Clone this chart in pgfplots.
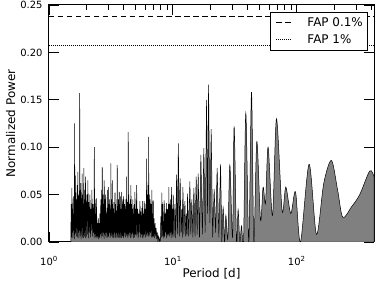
\documentclass[border=0pt]{standalone}
\usepackage{fontspec}
\setmainfont{DejaVu Sans}
\usepackage{pgfplots}
\pgfplotsset{compat=1.18}
\begin{document}
\begin{tikzpicture}
\begin{axis}[
  scale only axis, width=325bp, height=237bp,
  xmode=log, xmin=1, xmax=420, ymin=0, ymax=0.25,
  xtick={1,10,100},
  xticklabels={10\textsuperscript{0},10\textsuperscript{1},10\textsuperscript{2}},
  minor xtick={2,3,4,5,6,7,8,9,20,30,40,50,60,70,80,90,200,300,400},
  ytick={0,0.05,0.1,0.15,0.2,0.25},
  /pgf/number format/assume math mode=true,
  yticklabel style={/pgf/number format/fixed, /pgf/number format/fixed zerofill, /pgf/number format/precision=2, xshift=-3bp},
  scaled y ticks=false,
  tick align=inside, major tick length=10bp, minor tick length=5bp,
  axis line style={line width=1bp},
  every tick/.style={black, line width=0.8bp},
  tick label style={font=\fontsize{10}{12}\selectfont},
  xticklabel style={anchor=base, yshift=-23bp},
  label style={font=\fontsize{12}{14}\selectfont},
  xlabel={Period [d]}, ylabel={Normalized Power},
  xlabel style={at={(axis description cs:0.5,0)}, anchor=base, yshift=-35bp},
  ylabel style={at={(axis description cs:-0.1046,0.5)}, anchor=base},
  legend style={at={(rel axis cs:0.9785,0.9705)}, anchor=north east, draw=black, fill=white,
    inner xsep=2bp, inner ysep=3bp, row sep=3bp,
    nodes={inner xsep=2bp, inner ysep=2bp},
    font=\fontsize{12}{14}\selectfont},
  legend cell align=left,
]
\addplot[black, line width=0.5bp, fill=gray, forget plot] coordinates {
(1.50,0) (1.51,0.040) (1.52,0.005) (1.53,0.057) (1.54,0.010) (1.55,0.035) (1.56,0.004) (1.57,0.048) (1.58,0.012) (1.59,0.030) (1.60,0.003) (1.61,0.125) (1.62,0.008) (1.63,0.070) (1.64,0.010) (1.65,0.052) (1.66,0.006) (1.67,0.045) (1.68,0.015) (1.69,0.060) (1.70,0.005) (1.71,0.074) (1.72,0.010) (1.73,0.050) (1.74,0.004) (1.75,0.042) (1.76,0.012) (1.77,0.157) (1.78,0.006) (1.79,0.055) (1.80,0.010) (1.81,0.062) (1.82,0.003) (1.83,0.040) (1.84,0.012) (1.85,0.072) (1.86,0.005) (1.87,0.050) (1.88,0.015) (1.89,0.038) (1.90,0.004) (1.91,0.078) (1.92,0.010) (1.93,0.055) (1.94,0.006) (1.95,0.045) (1.96,0.012) (1.97,0.069) (1.98,0.004) (1.99,0.042)
(2.00,0.006) (2.02,0.050) (2.04,0.008) (2.06,0.065) (2.08,0.004) (2.10,0.042) (2.12,0.010) (2.14,0.050) (2.16,0.005) (2.18,0.035) (2.20,0.012) (2.22,0.055) (2.24,0.006) (2.26,0.040) (2.28,0.010) (2.30,0.040) (2.31,0.004) (2.32,0.100) (2.34,0.008) (2.36,0.045) (2.38,0.005) (2.40,0.030) (2.41,0.006) (2.42,0.046) (2.44,0.004) (2.46,0.020) (2.48,0.006) (2.50,0.025) (2.52,0.003) (2.54,0.020) (2.56,0.005) (2.58,0.030) (2.60,0.008) (2.62,0.045) (2.64,0.004) (2.66,0.055) (2.68,0.010) (2.69,0.079) (2.71,0.006) (2.73,0.050) (2.75,0.010) (2.77,0.040) (2.78,0.003) (2.79,0.065) (2.81,0.008) (2.83,0.045) (2.85,0.006) (2.87,0.050) (2.89,0.010) (2.91,0.030) (2.93,0.004) (2.94,0.036) (2.96,0.008) (2.98,0.055) (2.99,0.005)
(3.01,0.058) (3.03,0.006) (3.05,0.040) (3.07,0.010) (3.09,0.045) (3.11,0.004) (3.13,0.035) (3.15,0.008) (3.16,0.083) (3.18,0.006) (3.20,0.045) (3.22,0.010) (3.24,0.040) (3.25,0.005) (3.26,0.065) (3.28,0.008) (3.30,0.035) (3.32,0.004) (3.34,0.042) (3.36,0.010) (3.38,0.030) (3.40,0.005) (3.41,0.052) (3.43,0.008) (3.45,0.040) (3.47,0.004) (3.49,0.033) (3.51,0.010) (3.53,0.045) (3.545,0.005) (3.555,0.081) (3.57,0.008) (3.59,0.038) (3.61,0.005) (3.63,0.045) (3.65,0.010) (3.67,0.032) (3.68,0.004) (3.69,0.053) (3.71,0.008) (3.73,0.040) (3.75,0.005) (3.77,0.048) (3.79,0.010) (3.81,0.035) (3.83,0.004) (3.86,0.053) (3.88,0.008) (3.90,0.040) (3.92,0.006) (3.94,0.045) (3.96,0.010) (3.98,0.030) (3.99,0.004)
(4.00,0.048) (4.03,0.006) (4.06,0.040) (4.09,0.010) (4.12,0.045) (4.15,0.005) (4.18,0.035) (4.21,0.008) (4.23,0.069) (4.26,0.006) (4.29,0.042) (4.32,0.010) (4.34,0.004) (4.36,0.116) (4.38,0.008) (4.41,0.050) (4.44,0.006) (4.47,0.040) (4.50,0.010) (4.53,0.045) (4.56,0.004) (4.585,0.060) (4.61,0.008) (4.64,0.040) (4.67,0.005) (4.70,0.035) (4.73,0.010) (4.76,0.045) (4.79,0.004) (4.82,0.030) (4.85,0.008) (4.88,0.040) (4.91,0.005) (4.94,0.053) (4.97,0.008)
(5.00,0.035) (5.05,0.006) (5.10,0.060) (5.15,0.008) (5.20,0.035) (5.25,0.004) (5.30,0.030) (5.35,0.010) (5.42,0.043) (5.47,0.005) (5.52,0.032) (5.57,0.008) (5.62,0.036) (5.66,0.004) (5.70,0.043) (5.74,0.008) (5.78,0.030) (5.82,0.005) (5.87,0.043) (5.92,0.008) (5.96,0.035)
(6.00,0.005) (6.06,0.040) (6.10,0.008) (6.14,0.088) (6.18,0.006) (6.23,0.050) (6.28,0.010) (6.32,0.060) (6.34,0.006) (6.37,0.111) (6.41,0.008) (6.46,0.050) (6.51,0.006) (6.56,0.045) (6.61,0.010) (6.66,0.040) (6.71,0.005) (6.77,0.055) (6.82,0.006) (6.87,0.030) (6.90,0.005) (6.94,0.044) (6.99,0.006)
(7.05,0.025) (7.12,0.004) (7.18,0.020) (7.25,0.006) (7.32,0.015) (7.40,0.003) (7.48,0.010) (7.56,0.002) (7.65,0.006) (7.75,0.000) (7.85,0.004) (7.92,0.001)
(8.00,0.027) (8.07,0.005) (8.15,0.052) (8.23,0.006) (8.30,0.040) (8.38,0.008) (8.45,0.004) (8.51,0.044) (8.58,0.006) (8.66,0.030) (8.73,0.010) (8.81,0.035) (8.86,0.004) (8.90,0.041) (8.97,0.008) (9.05,0.035) (9.12,0.006) (9.20,0.040) (9.24,0.008) (9.28,0.058) (9.35,0.006) (9.43,0.040) (9.51,0.010) (9.59,0.045) (9.66,0.004) (9.76,0.058) (9.84,0.008) (9.92,0.035) (9.99,0.005)
(10.06,0.050) (10.22,0.006) (10.38,0.040) (10.53,0.004) (10.71,0.071) (10.88,0.008) (11.07,0.104) (11.26,0.006) (11.45,0.067) (11.62,0.010) (11.80,0.035) (11.92,0.005) (12.04,0.058) (12.27,0.008) (12.50,0.043) (12.70,0.006) (12.90,0.030) (13.00,0.008) (13.13,0.051) (13.42,0.006) (13.71,0.064) (13.95,0.008) (14.22,0.045) (14.50,0.005) (14.77,0.057) (15.10,0.006) (15.42,0.069) (15.70,0.008) (16.00,0.072) (16.40,0.005) (16.82,0.092) (17.30,0.008) (17.78,0.099) (18.22,0.010) (18.70,0.150) (19.05,0.030) (19.41,0.166) (19.88,0.020) (20.37,0.119) (20.94,0.005) (21.53,0.056) (22.14,0.010) (22.76,0.078) (23.49,0.005) (24.25,0.082) (24.85,0.000)
} \closedcycle;
\addplot[black, line width=0.5bp, fill=gray, smooth, forget plot] coordinates {
(24.85,0.000) (25.45,0.036) (26.12,0.000) (26.76,0.028) (27.77,0.004) (28.82,0.081) (30.30,0.005) (31.21,0.122) (32.64,0.000) (33.61,0.034) (34.70,0.000) (35.82,0.017) (37.17,0.000) (38.79,0.136) (41.01,0.000) (43.11,0.158) (45.00,0.000) (47.58,0.106) (50.97,0.023) (53.48,0.058) (55.92,0.041) (58.69,0.100) (63.68,0.028) (68.60,0.130) (76.12,0.033) (81.52,0.058) (89.45,0.030) (97.62,0.053) (107.1,0.000) (125.7,0.082) (144.2,0.008) (165.1,0.062) (190.5,0.086) (214.1,0.054) (235.0,0.026) (276.2,0.037) (322.2,0.050) (387.9,0.075) (420,0.069)
} \closedcycle;
\addplot[black, line width=1.6bp, dash pattern=on 5.5bp off 3.5bp,
  legend image code/.code={\path[draw=none] (-4bp,0bp) -- (29bp,0bp); \draw[black, line width=1.6bp, dash pattern=on 5.5bp off 3.5bp] (0bp,0bp) -- (15bp,0bp);}]
  coordinates {(1,0.238) (420,0.238)};
\addlegendentry{FAP 0.1\%}
\addplot[black, line width=0.9bp, dash pattern=on 0.9bp off 1.1bp,
  legend image code/.code={\path[draw=none] (-4bp,0bp) -- (29bp,0bp); \draw[black, line width=0.9bp, dash pattern=on 0.9bp off 1.1bp] (0bp,0bp) -- (15bp,0bp);}]
  coordinates {(1,0.207) (420,0.207)};
\addlegendentry{FAP 1\%}
\end{axis}
\pgfresetboundingbox
\path[use as bounding box] (current axis.south west) ++(-49bp,-44bp) rectangle ([shift={(8bp,5bp)}]current axis.north east);
\end{tikzpicture}
\end{document}
